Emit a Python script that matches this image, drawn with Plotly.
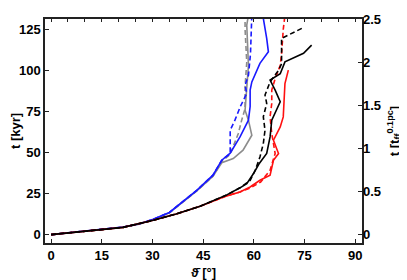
import plotly.graph_objects as go

# ---- data (theta in degrees, t in kyr) ----
theta_blue_solid = [0, 10, 21.3, 26, 30.2, 35, 39, 43.1, 47.9, 50.5, 53, 55.9, 58.4, 58.9, 58.9, 59.4, 61.8, 64.3, 63.8, 62.8]
t_blue_solid = [0, 2, 4.6, 6.5, 9.3, 13.5, 19.9, 27, 36.2, 45.3, 49.6, 59.5, 69.7, 78, 88, 93, 104.3, 111.3, 119.5, 131.7]

theta_blue_dash = [0, 10, 21.3, 26, 30.2, 35, 39, 43.1, 47.9, 50.5, 53, 53, 54.4, 56, 57.9, 57.4, 58.4, 59, 59.4]
t_blue_dash = [0, 2, 4.6, 6.5, 9.3, 13.5, 19.9, 27, 36.2, 45.3, 49.4, 63.6, 69.7, 78, 86, 91, 97, 110, 133.7]

theta_gray_solid = [0, 10, 21.3, 26, 30.2, 35, 39, 43.1, 47.9, 50.5, 53.9, 56.8, 59.4, 58.4, 57.4, 58.4, 57.9, 58.4]
t_gray_solid = [0, 2, 4.5, 6.4, 9.1, 13.3, 19.6, 26.6, 35.5, 43.8, 46.3, 51.4, 60.5, 69.7, 75.8, 103, 127.6, 133.7]

theta_gray_dash = [0, 10, 21.3, 26, 30.2, 35, 39, 43.1, 47.9, 50.5, 53, 55.4, 56.4, 57.4, 57.4, 57.9, 57.4, 57.4]
t_gray_dash = [0, 2, 4.5, 6.4, 9.1, 13.3, 19.6, 26.6, 35.5, 44.5, 49, 61.6, 69.7, 76.8, 90, 105, 125, 133.7]

theta_black_solid = [0, 10, 21.3, 30.2, 37, 44.1, 48.5, 52, 55.9, 57.9, 59.9, 61.5, 63.8, 64.8, 65.3, 67.8, 66.3, 64.8, 67.8, 69.2, 74.7, 77.1]
t_black_solid = [0, 2, 4.4, 8.7, 12.6, 17.3, 20.9, 24.2, 28.5, 31, 37.2, 43, 49.4, 59.5, 69.7, 80.9, 88, 94.1, 98, 105.2, 110.4, 115.4]

theta_black_dash = [0, 10, 21.3, 30.2, 37, 44.1, 48.5, 52, 55.9, 58.9, 60.4, 61.8, 62.8, 63.3, 62.8, 63.8, 63.3, 64.8, 67.3, 68.2, 68.2, 68.2, 74.2]
t_black_dash = [0, 2, 4.4, 8.7, 12.6, 17.3, 20.9, 24.2, 28.5, 33, 39.2, 47.3, 55.5, 63.6, 71.7, 79.9, 85, 93, 100, 104, 115, 119.5, 125.6]

theta_red_solid = [0, 10, 21.3, 30.2, 37, 44.1, 48.5, 52, 55.9, 58.9, 61.8, 64.8, 65.8, 67.3, 65.8, 67.8, 68.7, 69.2, 69.2, 70.2]
t_red_solid = [0, 2, 4.4, 8.7, 12.6, 17.3, 20.9, 23.6, 26, 29, 33.1, 36.2, 45.3, 49.4, 57.5, 65.6, 71.7, 88, 92, 100.2]

theta_red_dash = [0, 10, 21.3, 30.2, 37, 44.1, 48.5, 52, 55.9, 59, 62, 64.8, 66.3, 65.3, 64.8, 65.3, 65.3, 66.3, 67.8, 68.2, 68.7, 69.2]
t_red_dash = [0, 2, 4.4, 8.7, 12.6, 17.3, 20.9, 23.6, 26, 28.5, 32, 39.2, 49.4, 61.6, 71.7, 80, 88, 95, 103, 110, 125, 133.7]

x_ticks = [0, 15, 30, 45, 60, 75, 90]
y_ticks = [0, 25, 50, 75, 100, 125]
y2_ticks = [0, 0.5, 1, 1.5, 2, 2.5]
y2_labels = ["0", "0.5", "1", "1.5", "2", "2.5"]

BLUE = "#1a1aff"
GRAY = "#8c8c8c"
BLACK = "#000000"
RED = "#ff1010"
DASH = "5px,3px"

series = [
    (theta_gray_solid, t_gray_solid, GRAY, "solid"),
    (theta_gray_dash, t_gray_dash, GRAY, DASH),
    (theta_blue_solid, t_blue_solid, BLUE, "solid"),
    (theta_blue_dash, t_blue_dash, BLUE, DASH),
    (theta_red_solid, t_red_solid, RED, "solid"),
    (theta_red_dash, t_red_dash, RED, DASH),
    (theta_black_solid, t_black_solid, BLACK, "solid"),
    (theta_black_dash, t_black_dash, BLACK, DASH),
]

fig = go.Figure()
for xs, ys, col, dash in series:
    fig.add_trace(go.Scatter(x=xs, y=ys, mode="lines",
                             line=dict(color=col, width=1.6, dash=dash),
                             showlegend=False, hoverinfo="skip"))

FONT = "Liberation Sans"
tf = dict(family=FONT, size=13, color="black", weight="bold")

# the page body adds an 8px offset, so the figure is sized to fit the window
fig.update_layout(
    width=399, height=272,
    margin=dict(l=37, r=45, t=11, b=37),
    paper_bgcolor="white", plot_bgcolor="white",
    showlegend=False,
    xaxis=dict(range=[-1.8, 92], tickvals=x_ticks, ticks="inside", ticklen=4,
               tickcolor="#222", tickwidth=1.2, automargin=False,
               showline=True, linecolor="#222", linewidth=1.5, mirror=True,
               showgrid=False, zeroline=False, tickfont=tf,
               title=dict(text="ϑ̄ [°]", font=tf, standoff=7)),
    xaxis2=dict(range=[-1.8, 92], overlaying="x", side="top", dtick=5, tick0=0,
                ticks="inside", ticklen=3, tickcolor="#222", showticklabels=False,
                automargin=False,
                showgrid=False, zeroline=False, showline=False),
    yaxis=dict(range=[-5.1, 131.3], tickvals=y_ticks, ticks="inside", ticklen=4,
               tickcolor="#222", tickwidth=1.2, automargin=False,
               showline=True, linecolor="#222", linewidth=1.5, mirror=True,
               showgrid=False, zeroline=False, tickfont=tf,
               title=dict(text="t [kyr]", font=tf, standoff=1)),
    yaxis2=dict(range=[-0.098, 2.5], overlaying="y", side="right",
                tickvals=y2_ticks, ticktext=y2_labels, ticks="inside", ticklen=4,
                tickcolor="#222", tickwidth=1.2, automargin=False,
                showgrid=False, zeroline=False, showline=False, tickfont=tf,
                title=dict(text="t [t<sub>ff</sub><sup>0.1pc</sup>]", font=tf, standoff=9)),
)

# invisible traces to anchor secondary axes
fig.add_trace(go.Scatter(x=[None], y=[None], xaxis="x2", yaxis="y", showlegend=False, hoverinfo="skip"))
fig.add_trace(go.Scatter(x=[None], y=[None], xaxis="x", yaxis="y2", showlegend=False, hoverinfo="skip"))

fig.write_html("out.html")
